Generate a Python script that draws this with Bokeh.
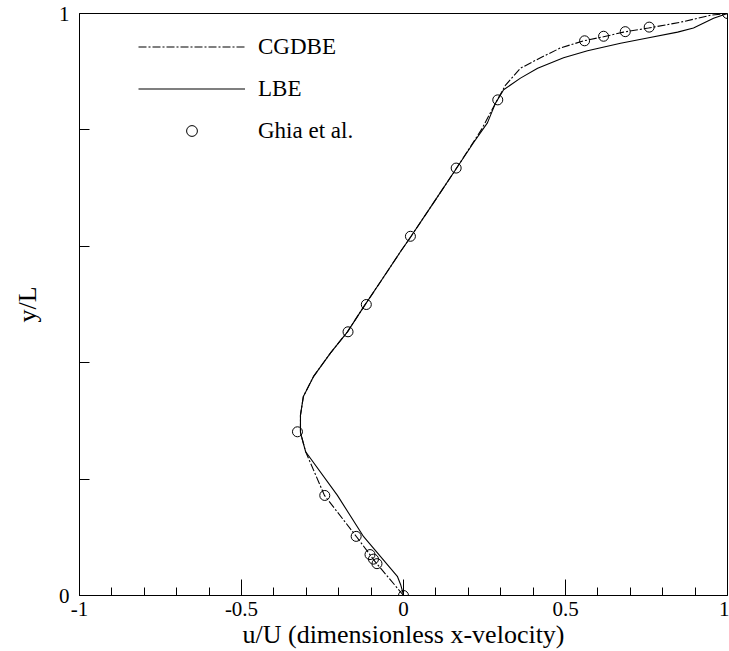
from bokeh.plotting import figure
from bokeh.models import FixedTicker, Legend, LegendItem
from bokeh.embed import file_html
from bokeh.resources import INLINE

# Ghia et al. (symbols)
ghia_y = [1.0000, 0.9766, 0.9688, 0.9609, 0.9531, 0.8516, 0.7344, 0.6172, 0.5000,
          0.4531, 0.2813, 0.1719, 0.1016, 0.0703, 0.0625, 0.0547, 0.0000]
ghia_u = [1.0, 0.75837, 0.68439, 0.61756, 0.55892, 0.29093, 0.16256, 0.02135, -0.11477,
          -0.17119, -0.32726, -0.24299, -0.14612, -0.10338, -0.09266, -0.08186, 0.0]

# CGDBE (dash-dot)
cg_y = [0.0, 0.03, 0.057, 0.101, 0.172, 0.247, 0.28, 0.31, 0.342, 0.376, 0.417, 0.453,
        0.496, 0.539, 0.591, 0.616, 0.675, 0.731, 0.80, 0.852, 0.877, 0.906, 0.924,
        0.941, 0.953, 0.960, 0.968, 0.975, 0.985, 0.997, 1.0]
cg_u = [0.0, -0.045, -0.086, -0.145, -0.244, -0.302, -0.318, -0.318, -0.309, -0.278,
        -0.225, -0.173, -0.123, -0.071, -0.009, 0.022, 0.093, 0.160, 0.240, 0.290,
        0.315, 0.361, 0.423, 0.485, 0.556, 0.617, 0.679, 0.756, 0.855, 0.948, 1.0]

# LBE (solid)
lb_y = [0.0, 0.007, 0.019, 0.033, 0.101, 0.172, 0.247, 0.28, 0.31, 0.342, 0.376, 0.417,
        0.453, 0.496, 0.539, 0.591, 0.616, 0.675, 0.731, 0.778, 0.812, 0.846, 0.869,
        0.889, 0.906, 0.924, 0.936, 0.949, 0.958, 0.968, 0.975, 0.992, 1.0]
lb_u = [0.0, -0.003, -0.009, -0.019, -0.123, -0.204, -0.302, -0.318, -0.318, -0.309,
        -0.278, -0.225, -0.173, -0.123, -0.071, -0.009, 0.022, 0.093, 0.160, 0.216,
        0.259, 0.284, 0.309, 0.361, 0.414, 0.494, 0.568, 0.670, 0.753, 0.846, 0.895,
        0.957, 1.0]

x_major = [-1, -0.5, 0, 0.5, 1]
x_minor = [-0.9, -0.8, -0.7, -0.6, -0.4, -0.3, -0.2, -0.1,
           0.1, 0.2, 0.3, 0.4, 0.6, 0.7, 0.8, 0.9]
x_labels = {-1: "-1", -0.5: "-0.5", 0: "0", 0.5: "0.5", 1: "1"}
y_major = [0, 0.2, 0.4, 0.6, 0.8, 1]
y_labels = {0: "0", 0.2: "", 0.4: "", 0.6: "", 0.8: "", 1: "1"}

FONT = "Liberation Serif"

p = figure(width=729, height=651, x_range=(-1, 1), y_range=(0, 1),
           output_backend="svg", toolbar_location=None,
           min_border_left=79, min_border_right=2, min_border_top=13, min_border_bottom=55)
p.grid.visible = False
p.outline_line_color = "black"
p.outline_line_width = 1
p.background_fill_color = "white"
p.border_fill_color = "white"

xa = p.xaxis[0]
xa.ticker = FixedTicker(ticks=x_major, minor_ticks=x_minor)
xa.major_label_overrides = x_labels
xa.major_tick_in = 16
xa.major_tick_out = 0
xa.minor_tick_in = 8
xa.minor_tick_out = 0
xa.minor_tick_line_color = "black"
xa.axis_label = "u/U (dimensionless x-velocity)"
xa.major_label_standoff = 6
xa.axis_label_standoff = 1

ya = p.yaxis[0]
ya.ticker = FixedTicker(ticks=y_major)
ya.major_label_overrides = y_labels
ya.major_tick_in = 10
ya.major_tick_out = 0
ya.minor_tick_line_color = None
ya.axis_label = "y/L"
ya.major_label_standoff = 10
ya.axis_label_standoff = 14

for ax in (xa, ya):
    ax.axis_line_color = "black"
    ax.major_tick_line_color = "black"
    ax.major_label_text_font = FONT
    ax.major_label_text_font_size = "21px"
    ax.major_label_text_color = "black"
    ax.axis_label_text_font = FONT
    ax.axis_label_text_font_size = "26px"
    ax.axis_label_text_font_style = "normal"
    ax.axis_label_text_color = "black"

r_cg = p.line(cg_u, cg_y, line_color="black", line_width=1.1, line_dash="8 2 2 2")
r_lb = p.line(lb_u, lb_y, line_color="black", line_width=1.1)
r_gh = p.scatter(ghia_u, ghia_y, marker="circle", size=10, fill_color=None,
                 line_color="black", line_width=1)

legend = Legend(items=[
    LegendItem(label="CGDBE", renderers=[r_cg]),
    LegendItem(label="LBE", renderers=[r_lb]),
    LegendItem(label="Ghia et al.", renderers=[r_gh]),
], location=(59, 451))
legend.glyph_width = 107
legend.glyph_height = 27
legend.label_height = 27
legend.spacing = 15
legend.padding = 0
legend.margin = 0
legend.label_standoff = 13
legend.border_line_color = None
legend.background_fill_alpha = 0
legend.label_text_font = FONT
legend.label_text_font_size = "23px"
legend.label_text_color = "black"
p.add_layout(legend)

open("out.html", "w").write(file_html(p, INLINE))
